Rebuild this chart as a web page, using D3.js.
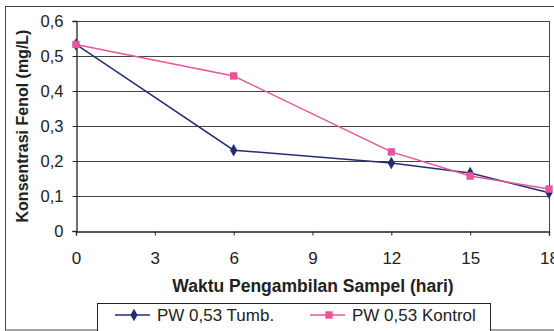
<!DOCTYPE html>
<html>
<head>
<meta charset="utf-8">
<script src="https://cdn.jsdelivr.net/npm/d3@7"></script>
<style>
  body { margin: 0; background: #fff; }
  svg { font-family: Arial, "Liberation Sans", sans-serif; }
</style>
</head>
<body>
<div id="chart"></div>
<script>
// data
const days = [0, 6, 12, 15, 18]
const tumb = [0.533, 0.231, 0.194, 0.166, 0.109]
const kontrol = [0.533, 0.443, 0.226, 0.157, 0.12]
const xTicks = [0, 3, 6, 9, 12, 15, 18]
const yTicks = [0, 0.1, 0.2, 0.3, 0.4, 0.5, 0.6]
const seriesNames = ["PW 0,53 Tumb.", "PW 0,53 Kontrol"]
const colors = ["#242d72", "#e8559b"]

const W = 554, H = 331
const svg = d3.select("#chart").append("svg")
  .attr("width", W).attr("height", H)

// outer chart frame
svg.append("rect")
  .attr("x", 5.5).attr("y", 6.5).attr("width", 560).attr("height", 323.5)
  .attr("fill", "#fff").attr("stroke", "#444").attr("stroke-width", 1)

const x = d3.scaleLinear().domain([0, 18]).range([76, 549])
const y = d3.scaleLinear().domain([0, 0.6]).range([231, 21])

// gridlines
svg.append("g").selectAll("line")
  .data(yTicks.slice(1))
  .enter().append("line")
  .attr("x1", x(0)).attr("x2", x(18))
  .attr("y1", d => Math.round(y(d)) + 0.5).attr("y2", d => Math.round(y(d)) + 0.5)
  .attr("stroke", "#444").attr("stroke-width", 1)

// plot border right
svg.append("line")
  .attr("x1", Math.round(x(18)) + 0.5).attr("x2", Math.round(x(18)) + 0.5)
  .attr("y1", y(0.6)).attr("y2", y(0))
  .attr("stroke", "#444")

const fmt = d => d3.format(".1f")(d).replace(".", ",")

const yAxis = svg.append("g")
  .attr("transform", `translate(${Math.round(x(0)) + 0.5},0)`)
  .call(d3.axisLeft(y).tickValues(yTicks).tickSize(4).tickPadding(9)
    .tickFormat(d => d === 0 ? "0" : fmt(d)))
const xAxis = svg.append("g")
  .attr("transform", `translate(0,${Math.round(y(0)) + 0.5})`)
  .call(d3.axisBottom(x).tickValues(xTicks).tickSize(4).tickPadding(16))

for (const ax of [xAxis, yAxis]) {
  ax.select(".domain").attr("stroke", "#222").attr("stroke-width", 1.3)
  ax.selectAll(".tick line").attr("stroke", "#222")
  ax.selectAll("text").attr("font-size", 17).attr("fill", "#222")
    .attr("font-family", "Arial, 'Liberation Sans', sans-serif")
}
yAxis.selectAll("text").attr("font-size", 16.5)

// axis titles
svg.append("text")
  .attr("x", 313).attr("y", 292)
  .attr("text-anchor", "middle")
  .attr("font-size", 17.5).attr("font-weight", "bold").attr("fill", "#222")
  .text("Waktu Pengambilan Sampel (hari)")
svg.append("text")
  .attr("transform", "translate(28,126) rotate(-90)")
  .attr("text-anchor", "middle")
  .attr("font-size", 16).attr("font-weight", "bold").attr("fill", "#222")
  .text("Konsentrasi Fenol (mg/L)")

const line = d3.line().x((d, i) => x(days[i])).y(d => y(d))
const allSeries = [tumb, kontrol]

allSeries.forEach((vals, s) => {
  svg.append("path")
    .datum(vals)
    .attr("d", line)
    .attr("fill", "none")
    .attr("stroke", colors[s]).attr("stroke-width", 1.5)
})

// markers: diamonds for Tumb, squares for Kontrol
const diamond = d3.symbol().type(d3.symbolDiamond).size(45)
const square = d3.symbol().type(d3.symbolSquare).size(55)
allSeries.forEach((vals, s) => {
  svg.append("g").selectAll("path")
    .data(vals)
    .enter().append("path")
    .attr("d", s === 0 ? diamond : square)
    .attr("transform", (d, i) => `translate(${x(days[i])},${y(d)})`)
    .attr("fill", colors[s])
})

// legend
const lg = svg.append("g")
lg.append("rect")
  .attr("x", 97.5).attr("y", 303.5).attr("width", 393).attr("height", 30)
  .attr("fill", "#fff").attr("stroke", "#222")
const legX = [115, 310]
seriesNames.forEach((name, s) => {
  const g = lg.append("g").attr("transform", `translate(${legX[s]},315)`)
  g.append("line").attr("x1", 0).attr("x2", 35).attr("y1", 0).attr("y2", 0)
    .attr("stroke", colors[s]).attr("stroke-width", 1.5)
  g.append("path").attr("d", s === 0 ? diamond : square)
    .attr("transform", "translate(19,0)").attr("fill", colors[s])
  g.append("text").attr("x", 42).attr("y", 5.5)
    .attr("font-size", 17).attr("fill", "#222")
    .text(name)
})
</script>
</body>
</html>
